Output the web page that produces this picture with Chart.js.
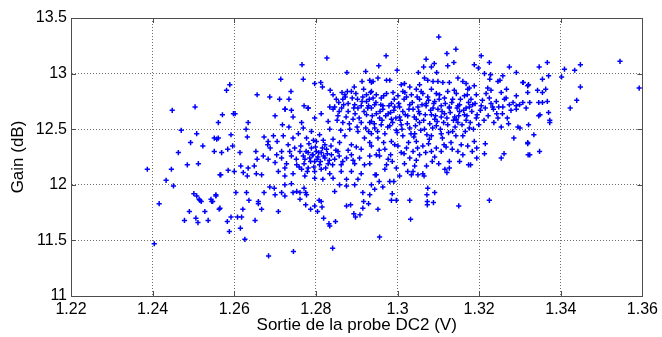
<!DOCTYPE html>
<html>
<head>
<meta charset="utf-8">
<script src="https://cdn.jsdelivr.net/npm/chart.js@4.4.1/dist/chart.umd.min.js"></script>
<style>
  html, body { margin: 0; padding: 0; background: #ffffff; }
  #wrap { width: 662px; height: 337px; }
</style>
</head>
<body>
<div id="wrap"><canvas id="c" width="662" height="337"></canvas></div>
<script>
// ---- Data: [probe output (V), gain (dB)] ----
const xTickValues = [1.22, 1.24, 1.26, 1.28, 1.30, 1.32, 1.34, 1.36];
const yTickValues = [11, 11.5, 12, 12.5, 13, 13.5];
const xAxisTitle = 'Sortie de la probe DC2 (V)';
const yAxisTitle = 'Gain (dB)';

const lowerPoints = [
  [1.2404,11.47],[1.2416,11.83],[1.2490,11.76],[1.2478,11.68],[1.2506,11.70],[1.2511,11.66],[1.2536,11.68],[1.2528,11.76],[1.2516,11.86],[1.2545,11.85],[1.2563,11.78],
  [1.2501,11.92],[1.2508,11.90],[1.2514,11.87],[1.2519,11.85],[1.2543,11.87],[1.2547,11.85],[1.2555,11.90],
  [1.2684,11.36],[1.2745,11.40],[1.2841,11.43],[1.2626,11.51],[1.2588,11.58],[1.2583,11.67],[1.2592,11.71],[1.2608,11.71],[1.2618,11.71],[1.2615,11.61],[1.2621,11.78],[1.2651,11.68],[1.2565,11.79],[1.2636,11.86],[1.2659,11.83],[1.2667,11.78],[1.2708,11.76],[1.2775,11.82],[1.2787,11.78],[1.2797,11.81],[1.2808,11.86],[1.2815,11.80],[1.2804,11.76],[1.2819,11.70],[1.2832,11.65],[1.2834,11.63],[1.2848,11.67],[1.2875,11.81],[1.2885,11.82],[1.2893,11.74],[1.2908,11.73],[1.2897,11.71],[1.2917,11.85],[1.2929,11.83],[1.2915,11.79],
  [1.2956,11.53],[1.3032,11.69],[1.2952,11.78],[1.2985,11.86],[1.2997,11.86],[1.3030,11.86],[1.3073,11.85],[1.3073,11.82],[1.3088,11.84],[1.3150,11.81],[1.3225,11.86],
  [1.2604,11.93],[1.2630,11.93],[1.2673,11.93],[1.2687,11.98],[1.2698,11.97],[1.2724,12.00],[1.2740,12.01],[1.2744,11.93],[1.2753,11.94],[1.2761,11.93],[1.2716,11.93],[1.2700,11.91],[1.2724,11.90],[1.2761,11.87],[1.2777,11.91],[1.2775,11.93],[1.2771,11.97],[1.2813,11.85],[1.2846,11.94],[1.2858,12.00],[1.2875,11.99],[1.2895,12.00],[1.2915,11.93],[1.2936,12.00],[1.2932,11.91],[1.2555,11.91],[1.2659,11.85],
  [1.3091,11.93],[1.3074,11.97],[1.3072,11.91],[1.2987,11.92],[1.2964,11.98],[1.2944,11.96]
];

const leftPoints = [
  [1.2387,12.14],[1.2446,12.14],[1.2433,12.04],[1.2451,11.99],[1.2565,12.09],[1.2485,12.18],[1.2512,12.19],[1.2463,12.29],[1.2551,12.30],[1.2493,12.38],[1.2523,12.35],[1.2551,12.42],[1.2557,12.41],[1.2470,12.49],[1.2508,12.46],[1.2561,12.56],[1.2448,12.67],[1.2504,12.70],
  [1.2589,12.90],[1.2581,12.85],[1.2656,12.81],[1.2687,12.79],[1.2711,12.77],[1.2734,12.77],[1.2725,12.68],[1.2714,12.95],[1.2739,12.84],
  [1.2571,12.63],[1.2598,12.64],[1.2602,12.64],[1.2724,12.68],[1.2740,12.67],[1.2700,12.62],[1.2744,12.61],[1.2634,12.56],[1.2629,12.50],[1.2632,12.43],[1.2561,12.42],[1.2592,12.45],[1.2673,12.43],[1.2718,12.54],[1.2734,12.52],[1.2682,12.36],[1.2705,12.39],[1.2688,12.33],[1.2596,12.35],[1.2584,12.32],[1.2614,12.29],[1.2569,12.29],[1.2653,12.30],[1.2671,12.26],[1.2683,12.23],[1.2656,12.23],[1.2700,12.20],[1.2616,12.17],[1.2649,12.17],[1.2634,12.15],[1.2585,12.13],[1.2600,12.12],[1.2567,12.09],[1.2622,12.11],[1.2632,12.08],[1.2654,12.10],[1.2667,12.09],
  [1.2696,12.44],[1.2683,12.39],[1.2716,12.30],[1.2704,12.27],[1.2724,12.15],[1.2736,12.30]
];

const upperPoints = [
  [1.2766,13.08],[1.2827,13.14],[1.2876,13.01],[1.2922,13.02],[1.2769,12.95],[1.2797,12.91],[1.2812,12.92],[1.2816,12.88],[1.2835,12.85],
  [1.3101,13.33],[1.2972,13.16],[1.3121,13.18],[1.3143,13.22],[1.3205,13.16],[1.3070,13.13],[1.3090,13.09],[1.3083,13.06],[1.3123,13.07],[1.3138,13.10],[1.2954,13.07],[1.3064,13.06],[1.3188,13.08],[1.3198,13.05],[1.3225,13.10],[1.3274,13.06],[1.3291,13.01],[1.2999,13.03],[1.3051,13.01],[1.3096,13.01],[1.3213,13.00],[1.3228,12.99],[1.3258,12.98],[1.3226,12.95],[1.3251,12.94],[1.3246,12.93],[1.3307,12.92],[1.3319,12.89],
  [1.2913,12.93],[1.2936,12.92],[1.2917,12.86],[1.2894,12.88],[1.2877,12.84],[1.2887,12.84],[1.2871,12.81],[1.2872,12.79],[1.2850,12.77],[1.2856,12.74],[1.2879,12.73],[1.2902,12.77],[1.2915,12.79],[1.2924,12.75],[1.2934,12.83],[1.2940,12.78],[1.2834,12.70],[1.2846,12.70],[1.2863,12.69],[1.2911,12.71],[1.2929,12.71],[1.2771,12.71],[1.2781,12.69],
  [1.2932,12.94],[1.2940,12.93],[1.2952,12.96],[1.2973,12.94],[1.2981,12.94],[1.3009,12.90],[1.3017,12.91],[1.3030,12.88],[1.3054,12.90],[1.3066,12.96],[1.3074,12.94],[1.3087,12.93],[1.3099,12.93],[1.3111,12.92],[1.3127,12.92],[1.3148,12.96],[1.3160,12.93],[1.3168,12.91],[1.3176,12.87],[1.3188,12.89],[1.3221,12.87],
  [1.2842,12.81],[1.2866,12.77],[1.2895,12.72],[1.2924,12.81]
];

const upperCorePoints = [
  [1.2936,12.84],[1.2948,12.81],[1.2960,12.78],[1.2973,12.82],[1.2989,12.83],[1.3001,12.80],[1.3013,12.84],[1.3022,12.79],[1.3034,12.81],[1.3046,12.86],[1.3054,12.77],[1.3062,12.82],[1.3074,12.79],[1.3083,12.86],[1.3091,12.75],[1.3103,12.81],[1.3115,12.78],[1.3123,12.84],[1.3135,12.77],[1.3144,12.82],[1.3152,12.72],[1.3164,12.80],[1.3172,12.86],[1.3180,12.77],[1.3193,12.81],[1.3217,12.82],[1.3225,12.78],[1.3242,12.75],[1.3254,12.83],[1.3266,12.78],[1.3274,12.72],[1.3291,12.80],[1.3307,12.74],
  [1.2944,12.72],[1.2964,12.71],[1.2985,12.73],[1.3005,12.70],[1.3030,12.72],[1.3050,12.70],[1.3070,12.73],[1.3087,12.69],[1.3107,12.71],[1.3127,12.70],[1.3148,12.71],[1.3168,12.69],[1.3184,12.72],[1.3205,12.71],[1.3233,12.70],[1.3258,12.70],[1.3291,12.71],[1.3315,12.69]
];

const corePoints = [
  [1.2936,12.69],[1.2948,12.64],[1.2964,12.68],[1.2977,12.64],[1.2993,12.70],[1.3013,12.66],[1.3025,12.62],[1.3038,12.68],[1.3054,12.64],[1.3070,12.71],[1.3083,12.63],[1.3099,12.68],[1.3115,12.64],[1.3127,12.69],[1.3140,12.61],[1.3152,12.66],[1.3164,12.63],[1.3176,12.70],[1.3193,12.60],
  [1.2956,12.60],[1.2985,12.59],[1.3005,12.61],[1.3046,12.59],[1.3091,12.59],[1.3107,12.61],[1.3144,12.59],[1.3168,12.58],
  [1.2932,12.56],[1.2944,12.51],[1.2960,12.54],[1.2969,12.46],[1.2981,12.53],[1.2997,12.49],[1.3009,12.54],[1.3013,12.44],[1.3030,12.51],[1.3042,12.46],[1.3054,12.56],[1.3066,12.50],[1.3083,12.44],[1.3095,12.53],[1.3107,12.46],[1.3123,12.54],[1.3135,12.48],[1.3148,12.56],[1.3160,12.44],[1.3176,12.51],[1.3188,12.39],
  [1.2952,12.42],[1.2985,12.39],[1.3046,12.39],[1.3131,12.38],[1.3156,12.36],
  [1.2936,12.35],[1.2948,12.27],[1.2956,12.26],[1.2969,12.32],[1.2977,12.23],[1.3001,12.35],[1.3009,12.29],[1.3022,12.33],[1.3030,12.24],[1.3038,12.30],[1.3054,12.27],[1.3062,12.35],[1.3083,12.30],[1.3095,12.33],[1.3107,12.30],[1.3119,12.34],[1.3148,12.30],[1.3172,12.35],
  [1.2932,12.19],[1.2973,12.18],[1.2969,12.14],[1.2997,12.15],[1.3005,12.08],[1.3025,12.12],[1.3042,12.17],[1.3062,12.10],[1.2948,12.09],
  [1.2781,12.69],[1.2797,12.60],[1.2813,12.64],[1.2830,12.57],[1.2842,12.68],[1.2854,12.62],[1.2866,12.56],[1.2879,12.66],[1.2891,12.59],[1.2903,12.69],[1.2911,12.56],[1.2924,12.63],[1.2936,12.57],[1.2765,12.56],
  [1.2883,12.50],[1.2871,12.44],[1.2903,12.48],[1.2919,12.42],[1.2936,12.46],[1.2858,12.38],[1.2887,12.36],[1.2911,12.32],[1.2932,12.38],
  [1.2757,12.46],[1.2769,12.51],[1.2777,12.42],[1.2789,12.48],[1.2801,12.39],[1.2809,12.45],[1.2822,12.36],[1.2834,12.50],[1.2842,12.41],[1.2744,12.42],[1.2732,12.36],[1.2748,12.33],[1.2720,12.44],
  [1.2761,12.30],[1.2769,12.26],[1.2773,12.23],[1.2781,12.29],[1.2785,12.24],[1.2789,12.33],[1.2793,12.27],[1.2797,12.21],[1.2801,12.30],[1.2805,12.25],[1.2809,12.18],[1.2813,12.29],[1.2822,12.24],[1.2826,12.32],[1.2830,12.19],[1.2838,12.27],[1.2846,12.23],[1.2854,12.30],[1.2862,12.18],[1.2875,12.24],[1.2887,12.27],[1.2895,12.19],[1.2907,12.24],[1.2919,12.18],[1.2932,12.26],
  [1.2740,12.26],[1.2728,12.19],[1.2716,12.24],[1.2753,12.18],[1.2765,12.14],[1.2781,12.15],[1.2797,12.12],[1.2813,12.14],[1.2834,12.10],[1.2862,12.12],[1.2887,12.12],[1.2911,12.10],[1.2797,12.06],[1.2817,12.05],[1.2842,12.06],[1.2875,12.05],[1.2903,12.05],[1.2773,12.08],[1.2744,12.10],[1.2724,12.08],[1.2708,12.12]
];

const denseClusterPoints = [
  [1.2852,12.58],[1.2861,12.49],[1.2868,12.72],[1.2874,12.61],[1.2882,12.55],[1.2889,12.78],[1.2896,12.64],[1.2901,12.52],[1.2906,12.60],[1.2913,12.75],[1.2918,12.66],[1.2922,12.51],[1.2927,12.69],[1.2931,12.77],[1.2938,12.62],[1.2943,12.55],[1.2947,12.74],[1.2951,12.48],[1.2957,12.66],[1.2962,12.58],[1.2966,12.80],[1.2971,12.62],[1.2976,12.52],[1.2979,12.71],[1.2983,12.65],[1.2988,12.56],[1.2992,12.77],[1.2996,12.60],[1.2999,12.47],[1.2857,12.66],[1.2893,12.69],[1.2929,12.48],[1.2959,12.72],[1.2991,12.67],[1.2864,12.83],[1.2898,12.82],
  [1.3003,12.73],[1.3007,12.58],[1.3011,12.50],[1.3016,12.77],[1.3019,12.63],[1.3024,12.55],[1.3028,12.68],[1.3033,12.46],[1.3036,12.74],[1.3041,12.61],[1.3044,12.53],[1.3048,12.79],[1.3052,12.66],[1.3057,12.49],[1.3060,12.72],[1.3064,12.58],[1.3068,12.63],[1.3072,12.45],[1.3076,12.76],[1.3079,12.55],[1.3081,12.67],[1.3086,12.51],[1.3089,12.73],[1.3093,12.62],[1.3097,12.57],[1.3102,12.77],[1.3105,12.50],[1.3109,12.66],[1.3113,12.56],[1.3117,12.73],[1.3121,12.60],[1.3125,12.47],[1.3129,12.65],[1.3133,12.74],[1.3137,12.58],[1.3141,12.52],[1.3146,12.69],[1.3150,12.62],[1.3154,12.77],[1.3158,12.54],[1.3162,12.67],[1.3166,12.48],[1.3170,12.62],[1.3174,12.74],[1.3178,12.56],[1.3182,12.66],[1.3186,12.50],[1.3190,12.73],[1.3195,12.63],[1.3199,12.54],[1.3203,12.67],[1.3208,12.76],[1.3212,12.58],[1.3040,12.43],[1.3078,12.41],[1.3110,12.42],[1.3143,12.44],[1.3018,12.83],[1.3058,12.84],[1.3095,12.82],[1.3139,12.85],[1.3171,12.81],
  [1.2763,12.35],[1.2771,12.19],[1.2776,12.30],[1.2779,12.12],[1.2783,12.37],[1.2787,12.21],[1.2791,12.27],[1.2795,12.16],[1.2799,12.34],[1.2803,12.23],[1.2807,12.29],[1.2811,12.21],[1.2816,12.33],[1.2819,12.26],[1.2824,12.15],[1.2828,12.28],[1.2833,12.22],[1.2837,12.35],[1.2841,12.18],[1.2849,12.31],[1.2857,12.26],[1.2866,12.21],[1.2879,12.31],[1.2891,12.22],[1.2899,12.34],[1.2794,12.40],[1.2818,12.40],[1.2752,12.23],[1.2759,12.16],
  [1.2955,12.31],[1.2966,12.38],[1.2983,12.27],[1.2993,12.36],[1.3016,12.28],[1.3027,12.38],[1.3049,12.33],[1.3069,12.29],[1.3076,12.37],[1.3091,12.25],[1.3114,12.36],[1.3134,12.32],[1.3160,12.27],[1.3183,12.30],[1.2987,12.21],[1.3017,12.19],[1.3046,12.22],[1.3071,12.17],[1.3085,12.21],
  [1.3222,12.62],[1.3229,12.73],[1.3236,12.56],[1.3248,12.70],[1.3257,12.64],[1.3262,12.77],[1.3272,12.55],[1.3283,12.74],[1.3229,12.85],[1.3267,12.86]
];

const rightPoints = [
  [1.3545,13.11],[1.3448,13.08],[1.3434,13.03],[1.3409,13.04],[1.3367,13.10],[1.3347,13.06],[1.3370,12.98],[1.3402,12.97],[1.3355,12.95],[1.3308,12.92],[1.3321,12.90],[1.3448,12.88],[1.3592,12.87],[1.3319,12.83],[1.3343,12.85],[1.3355,12.83],[1.3363,12.86],[1.3439,12.76],[1.3324,12.74],[1.3346,12.74],[1.3355,12.74],[1.3367,12.75],[1.3423,12.69],[1.3299,12.72],
  [1.3370,12.65],[1.3349,12.63],[1.3346,12.62],[1.3373,12.58],[1.3373,12.56],[1.3321,12.54],[1.3300,12.51],[1.3334,12.45],[1.3319,12.37],[1.3348,12.30],[1.3324,12.27],
  [1.3215,12.69],[1.3235,12.68],[1.3291,12.68],[1.3278,12.67],[1.3243,12.64],[1.3246,12.60],[1.3269,12.60],[1.3254,12.52],[1.3295,12.52],[1.3285,12.42],[1.3319,12.38],[1.3213,12.28],[1.3215,12.37],[1.3254,12.24],[1.3261,12.28],[1.3320,12.27],[1.3194,12.33],[1.3194,12.24],[1.3174,12.18],[1.3179,12.18],[1.3152,12.21],[1.3127,12.21],[1.3127,12.15],[1.3116,12.14],[1.3121,12.11],[1.3101,12.19],
  [1.2955,12.03],[1.2981,12.03],[1.2991,12.03],[1.2945,12.09],[1.3065,12.08],[1.3050,12.09],[1.3034,12.09],[1.3038,12.12]
];

const allPoints = [].concat(lowerPoints, leftPoints, upperPoints, upperCorePoints, corePoints, denseClusterPoints, rightPoints)
  .map(p => ({ x: p[0], y: p[1] }));

function fmt(v) { return String(Number(v.toFixed(4))); }

const frameColor = '#4d4d4d';
const gridColor = '#6e6e6e';

const framePlugin = {
  id: 'matlabFrame',
  afterDraw(chart) {
    const { ctx, chartArea: a, scales } = chart;
    ctx.save();
    ctx.strokeStyle = frameColor;
    ctx.lineWidth = 1;
    const tl = 5;
    ctx.beginPath();
    xTickValues.forEach(v => {
      const px = Math.round(scales.x.getPixelForValue(v)) + 0.5;
      ctx.moveTo(px, a.bottom); ctx.lineTo(px, a.bottom - tl);
      ctx.moveTo(px, a.top); ctx.lineTo(px, a.top + tl);
    });
    yTickValues.forEach(v => {
      const py = Math.round(scales.y.getPixelForValue(v)) + 0.5;
      ctx.moveTo(a.left, py); ctx.lineTo(a.left + tl, py);
      ctx.moveTo(a.right, py); ctx.lineTo(a.right - tl, py);
    });
    ctx.stroke();
    ctx.strokeRect(Math.round(a.left) + 0.5, Math.round(a.top) + 0.5,
                   Math.round(a.right - a.left), Math.round(a.bottom - a.top));
    ctx.restore();
  }
};

new Chart(document.getElementById('c'), {
  type: 'scatter',
  data: {
    datasets: [{
      data: allPoints,
      pointStyle: 'cross',
      pointRadius: 2.6,
      pointHoverRadius: 2.6,
      borderColor: '#0000ff',
      backgroundColor: '#0000ff',
      pointBorderWidth: 1.5
    }]
  },
  options: {
    responsive: false,
    animation: false,
    events: [],
    layout: { padding: { top: 18, right: 19, left: 0, bottom: 0 } },
    plugins: { legend: { display: false }, tooltip: { enabled: false } },
    scales: {
      x: {
        type: 'linear',
        min: 1.22, max: 1.36,
        afterBuildTicks(scale) { scale.ticks = xTickValues.map(v => ({ value: v })); },
        afterFit(scale) { scale.height = 41; },
        ticks: {
          callback: v => fmt(v),
          color: '#000', padding: 4, maxRotation: 0, autoSkip: false,
          font: { family: '"Liberation Sans", Arial, sans-serif', size: 16 }
        },
        grid: { color: gridColor, lineWidth: 1, drawTicks: false },
        border: { display: true, color: frameColor, dash: [1, 2] },
        title: {
          display: true, text: xAxisTitle, color: '#000',
          font: { family: '"Liberation Sans", Arial, sans-serif', size: 17 },
          padding: { top: 0, bottom: 1 }
        }
      },
      y: {
        type: 'linear',
        min: 11, max: 13.5,
        afterBuildTicks(scale) { scale.ticks = yTickValues.map(v => ({ value: v })); },
        afterFit(scale) { scale.width = 71; },
        ticks: {
          callback: v => fmt(v),
          color: '#000', padding: 4, autoSkip: false,
          font: { family: '"Liberation Sans", Arial, sans-serif', size: 16 }
        },
        grid: { color: gridColor, lineWidth: 1, drawTicks: false },
        border: { display: true, color: frameColor, dash: [1, 2] },
        title: {
          display: true, text: yAxisTitle, color: '#000',
          font: { family: '"Liberation Sans", Arial, sans-serif', size: 17 },
          padding: { top: 8, bottom: 0 }
        }
      }
    }
  },
  plugins: [framePlugin]
});
</script>
</body>
</html>
